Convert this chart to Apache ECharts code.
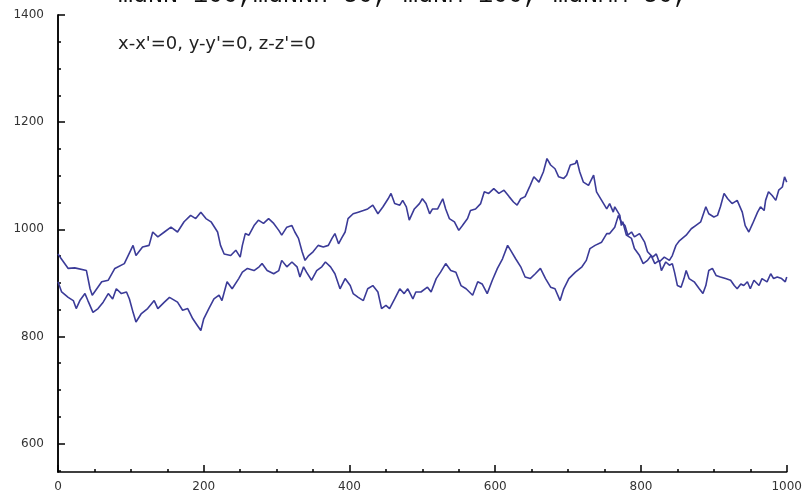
<!DOCTYPE html>
<html>
<head>
<meta charset="utf-8">
<script src="https://cdn.jsdelivr.net/npm/echarts@6/dist/echarts.min.js"></script>
<style>
    html, body { margin: 0; padding: 0; background: #fff; }
    #main { width: 805px; height: 495px; }
</style>
</head>
<body>
<div id="main"></div>
<script>
// walk 1 (starts ~955, peaks ~1130 near 680, ends ~910)
var xA = [0,3,14,23,39,44,47,60,69,78,91,103,107,116,125,130,137,146,155,164,173,182,189,196,203,210,219,223,228,237,244,250,253,257,262,269,275,282,289,296,303,307,314,321,325,330,335,339,344,350,357,364,371,376,380,385,389,394,398,405,412,419,425,432,439,446,453,457,462,469,473,478,482,489,496,500,505,510,514,521,528,532,537,544,550,555,562,566,573,580,585,591,598,605,612,619,625,630,635,641,648,653,660,666,671,676,682,687,694,698,703,710,712,716,721,728,735,739,746,753,757,762,764,771,773,775,780,787,791,798,803,809,814,819,825,828,834,839,843,846,850,855,859,862,866,873,880,885,889,893,898,903,909,916,923,928,932,937,941,946,950,955,962,966,973,978,982,987,993,998,1000];
var yA = [954,948,927,928,923,889,877,902,905,927,936,970,951,967,970,995,986,995,1004,995,1014,1026,1020,1032,1020,1014,995,970,954,951,961,948,970,992,989,1007,1017,1011,1020,1011,998,989,1004,1007,995,983,958,942,951,958,970,967,970,983,992,973,983,995,1020,1029,1032,1035,1038,1045,1029,1042,1057,1067,1048,1045,1054,1042,1017,1038,1048,1057,1048,1029,1038,1038,1057,1038,1020,1014,998,1007,1020,1035,1038,1048,1070,1067,1076,1067,1073,1061,1051,1045,1057,1061,1082,1098,1088,1107,1132,1120,1113,1098,1095,1101,1120,1123,1129,1107,1088,1082,1101,1070,1054,1038,1048,1032,1042,1026,1007,1014,989,983,964,951,936,942,951,936,942,923,939,933,936,920,895,892,908,923,908,902,889,880,895,923,927,914,911,908,905,895,889,898,895,902,889,905,895,908,902,917,908,911,908,902,911];

// walk 2 (starts ~900, dips ~810 near 195, ends ~1090)
var xB = [0,5,14,21,25,30,37,41,48,55,62,69,75,80,87,94,98,103,107,114,123,132,137,146,153,164,171,178,185,191,196,200,207,214,221,225,232,239,248,253,260,269,276,280,287,296,303,307,314,321,328,332,337,341,348,355,362,367,374,380,387,394,401,405,412,419,425,432,439,444,450,455,462,469,475,480,487,491,498,507,512,519,525,532,539,546,553,560,569,576,582,589,596,603,610,617,621,628,635,641,648,655,662,669,676,682,689,694,701,710,719,725,730,737,746,753,757,764,769,773,778,782,787,791,798,805,809,816,821,825,832,839,843,848,853,862,869,875,882,889,893,900,905,909,914,919,925,932,939,943,948,953,960,964,969,971,975,980,985,989,994,997,1000];
var yB = [902,883,873,867,852,867,880,867,845,852,864,880,870,889,880,883,870,845,827,842,852,867,852,864,873,864,849,852,833,821,811,833,852,870,877,867,902,889,908,920,927,923,930,936,923,917,923,942,930,939,930,911,930,920,905,923,930,939,930,917,889,908,895,880,873,867,889,895,883,852,858,852,870,889,880,889,870,883,883,892,883,908,920,936,923,920,895,889,877,902,898,880,905,927,945,970,961,945,930,911,908,917,927,908,892,889,867,889,908,920,930,942,964,970,976,992,992,1004,1026,1014,1007,989,995,986,992,976,958,948,954,939,948,942,951,970,979,989,1001,1007,1014,1042,1029,1023,1026,1042,1067,1057,1048,1054,1032,1007,995,1010,1032,1042,1035,1054,1070,1063,1054,1073,1079,1098,1088];

var yMajor = [600, 800, 1000, 1200, 1400];
var yMinor = [550, 650, 700, 750, 850, 900, 950, 1050, 1100, 1150, 1250, 1300, 1350];

var lineColor = '#3b3b98';

function pairs(xs, ys) {
    var out = [];
    for (var i = 0; i < xs.length; i++) {
        out.push([xs[i], ys[i]]);
    }
    return out;
}

function plain(v) {
    return String(v);
}

var chartDom = document.getElementById('main');
var myChart = echarts.init(chartDom);
var option;

var tickLine = {color: '#000', width: 1.5};

option = {
    animation: false,
    grid: {
        left: 58,
        right: 12,
        top: 15,
        bottom: 23
    },
    graphic: [
        {
            type: 'text',
            left: 118,
            top: -17,
            style: {
                text: 'mdNN=100,mdNNn=50, mdNM=100, mdNMM=50,',
                font: '25px "Courier New", "Liberation Mono", monospace',
                fill: '#111'
            }
        },
        {
            type: 'text',
            left: 118,
            top: 35,
            style: {
                text: "x-x'=0, y-y'=0, z-z'=0",
                font: '18px "DejaVu Sans", sans-serif',
                fill: '#222'
            }
        }
    ],
    xAxis: {
        type: 'value',
        min: 0,
        max: 1000,
        interval: 200,
        axisLine: {show: true, lineStyle: tickLine},
        axisTick: {show: true, inside: true, length: 7, lineStyle: tickLine},
        minorTick: {show: true, splitNumber: 4, length: 3, lineStyle: tickLine},
        axisLabel: {
            margin: 9,
            color: '#333',
            fontSize: 12,
            fontFamily: 'DejaVu Sans',
            formatter: plain
        },
        splitLine: {show: false}
    },
    yAxis: [
        {
            type: 'value',
            min: 547,
            max: 1400,
            position: 'left',
            axisLine: {show: true, onZero: false, lineStyle: tickLine},
            axisTick: {
                show: true,
                inside: true,
                length: 7,
                customValues: yMajor,
                lineStyle: tickLine
            },
            axisLabel: {
                customValues: yMajor,
                margin: 14,
                color: '#333',
                fontSize: 12,
                fontFamily: 'DejaVu Sans',
                formatter: plain
            },
            splitLine: {show: false}
        },
        {
            // minor ticks only
            type: 'value',
            min: 547,
            max: 1400,
            position: 'left',
            axisLine: {show: true, onZero: false, lineStyle: tickLine},
            axisTick: {
                show: true,
                inside: true,
                length: 3,
                customValues: yMinor,
                lineStyle: tickLine
            },
            axisLabel: {show: false},
            splitLine: {show: false}
        }
    ],
    series: [
        {
            type: 'line',
            data: pairs(xA, yA),
            showSymbol: false,
            lineStyle: {color: lineColor, width: 1.6},
            itemStyle: {color: lineColor}
        },
        {
            type: 'line',
            data: pairs(xB, yB),
            showSymbol: false,
            lineStyle: {color: lineColor, width: 1.6},
            itemStyle: {color: lineColor}
        }
    ]
};

option && myChart.setOption(option);
</script>
</body>
</html>
